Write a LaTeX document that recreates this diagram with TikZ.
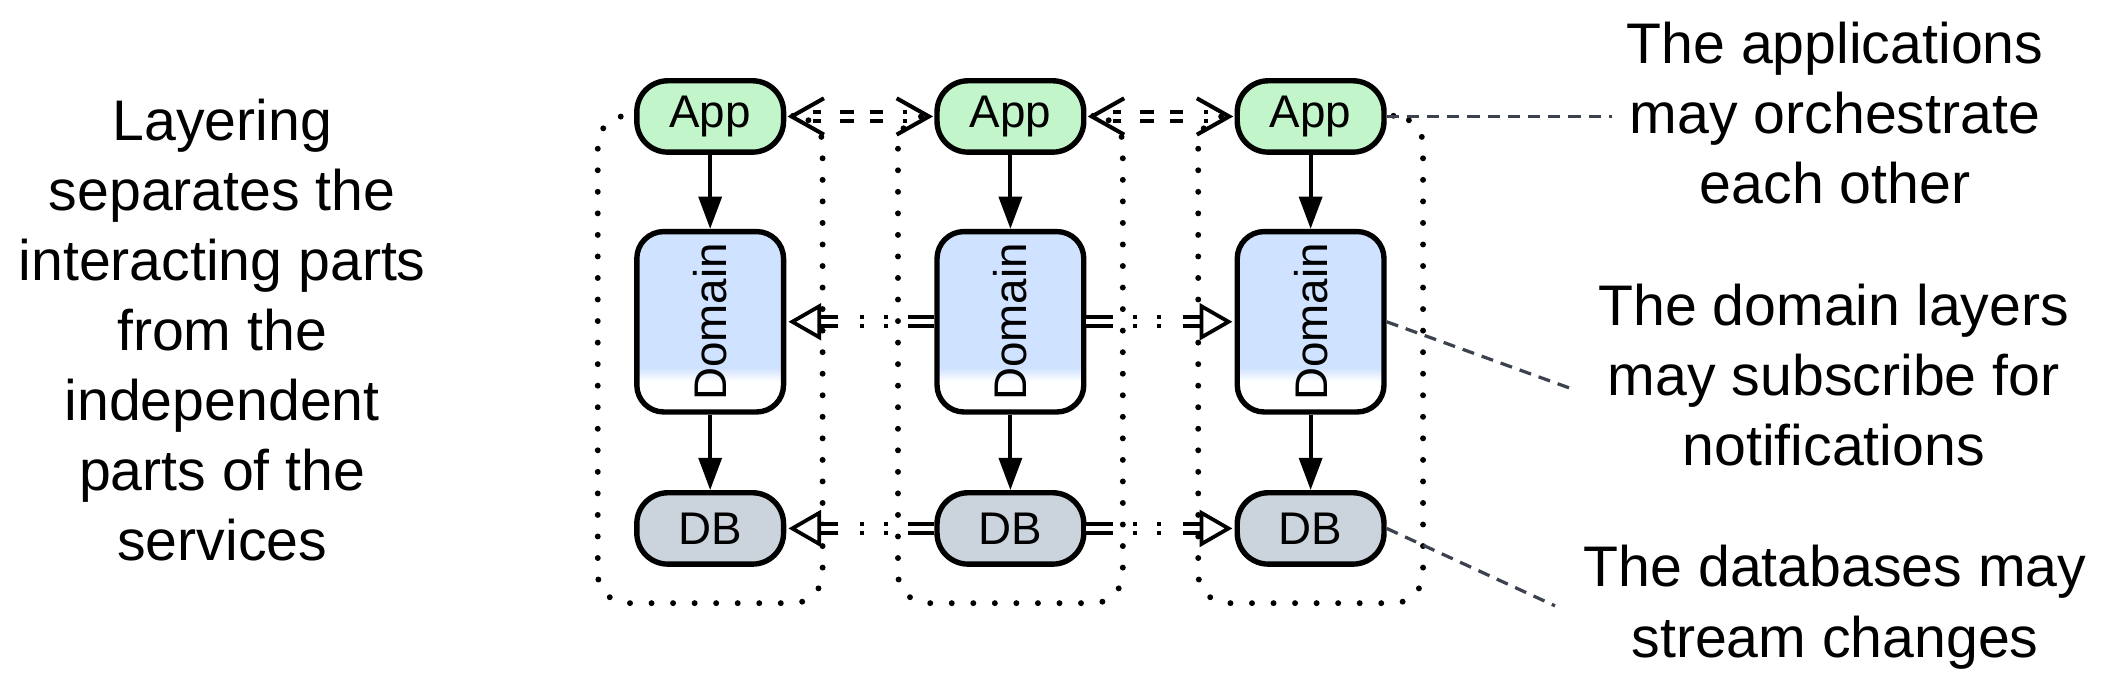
\documentclass[tikz,border=0pt]{standalone}
\usepackage{fontspec}
\setmainfont{Liberation Sans}
\usetikzlibrary{arrows.meta,calc}

\definecolor{appgreen}{RGB}{194,245,201}
\definecolor{domblue}{RGB}{207,226,255}
\definecolor{dbgray}{RGB}{203,211,220}
\definecolor{notegray}{RGB}{60,66,78}

\begin{document}
\begin{tikzpicture}[x=1pt,y=-1pt,
  layer/.style={draw=black, line width=4pt, minimum width=109pt, inner sep=0pt,
    font=\fontsize{34}{40}\selectfont},
  appbox/.style={layer, fill=appgreen, minimum height=53pt, rounded corners=23pt},
  dbbox/.style={layer, fill=dbgray, minimum height=53pt, rounded corners=23pt},
  dombox/.style={layer, fill=white, minimum height=134pt, rounded corners=20pt,
    path picture={
      \fill[domblue, sharp corners] (path picture bounding box.north west) rectangle
        ($(path picture bounding box.north east)!0.76!(path picture bounding box.south east)$);
      \shade[top color=domblue, bottom color=white, sharp corners]
        ($(path picture bounding box.north west)!0.755!(path picture bounding box.south west)$) rectangle
        ($(path picture bounding box.north east)!0.83!(path picture bounding box.south east)$);
    }},
  svcbox/.style={draw=black, line width=4.4pt, line cap=round,
    dash pattern=on 0pt off 16pt, rounded corners=22pt,
    minimum width=167pt, minimum height=362pt, inner sep=0pt},
  flow/.style={line width=3pt, -{Triangle[length=24pt,width=17pt]}},
  dblline/.style={draw=black, line width=2.8pt, double=white, double distance=3.8pt},
  appcall/.style={dblline, dash pattern=on 6pt off 14pt on 10pt off 12pt on 10pt off 15pt on 6pt off 0pt},
  pubsub/.style={dblline, dash pattern=on 19.5pt off 15pt on 3pt off 15pt on 3pt off 16pt on 17pt off 0pt},
  barb/.style={draw=black, line width=3pt, line join=miter},
  opentri/.style={draw=black, fill=white, line width=2.8pt, line join=miter},
  note/.style={draw=notegray, line width=2.4pt, dash pattern=on 9pt off 6pt},
  bigtext/.style={align=center, inner sep=0pt, anchor=north,
    font=\fontsize{42.5}{52}\selectfont}
]
\useasboundingbox (0,0) rectangle (1568,512.5);

% dotted service boundaries
\node[svcbox] (svc1) at (527.5,267) {};
\node[svcbox] (svc2) at (750.5,267) {};
\node[svcbox] (svc3) at (973.5,267) {};

% layers of each service
\foreach \i/\x in {1/527.5, 2/750.5, 3/973.5} {
  \node[appbox] (app\i) at (\x,86.5) {App};
  \node[dombox] (dom\i) at (\x,239) {\rotatebox{90}{Domain}};
  \node[dbbox]  (db\i)  at (\x,392.5) {DB};
  \draw[flow] (app\i) -- (dom\i);
  \draw[flow] (dom\i) -- (db\i);
}

% applications orchestrating each other
\draw[appcall] ([xshift=20pt]app1.east) -- ([xshift=-20pt]app2.west);
\draw[appcall] ([xshift=20pt]app2.east) -- ([xshift=-20pt]app3.west);
\foreach \a/\b in {app1/app2, app2/app3} {
  \draw[barb] ([shift={(28pt,-13.5pt)}]\a.east) -- ([xshift=4pt]\a.east) -- ([shift={(28pt,13.5pt)}]\a.east);
  \draw[barb] ([shift={(-28pt,-13.5pt)}]\b.west) -- ([xshift=-4pt]\b.west) -- ([shift={(-28pt,13.5pt)}]\b.west);
}

% the middle service publishes to both neighbours
\foreach \l in {dom, db} {
  \draw[pubsub] (\l2.west) -- ([xshift=24.5pt]\l1.east);
  \draw[pubsub] (\l2.east) -- ([xshift=-24.5pt]\l3.west);
  \draw[opentri] ([xshift=4.5pt]\l1.east) -- ([shift={(24.5pt,-11.5pt)}]\l1.east)
    -- ([shift={(24.5pt,11.5pt)}]\l1.east) -- cycle;
  \draw[opentri] ([xshift=-4.5pt]\l3.west) -- ([shift={(-24.5pt,-11.5pt)}]\l3.west)
    -- ([shift={(-24.5pt,11.5pt)}]\l3.west) -- cycle;
}

% annotation leaders
\coordinate (n1) at (1197,86.5);
\coordinate (n2) at (1168,289);
\coordinate (n3) at (1155,450);
\draw[note] (app3.east) -- (n1);
\draw[note] (dom3.east) -- (n2);
\draw[note] (db3.east) -- (n3);

% texts
\node[bigtext] (layering) at (165,73)
  {Layering\\separates the\\interacting parts\\from the\\independent\\parts of the\\services};
\node[bigtext] (t1) at (1363,16) {The applications\\may orchestrate\\each other};
\node[bigtext] (t2) at (1362,211) {The domain layers\\may subscribe for\\notifications};
\node[bigtext] (t3) at (1363,405) {The databases may\\stream changes};
\end{tikzpicture}
\end{document}
